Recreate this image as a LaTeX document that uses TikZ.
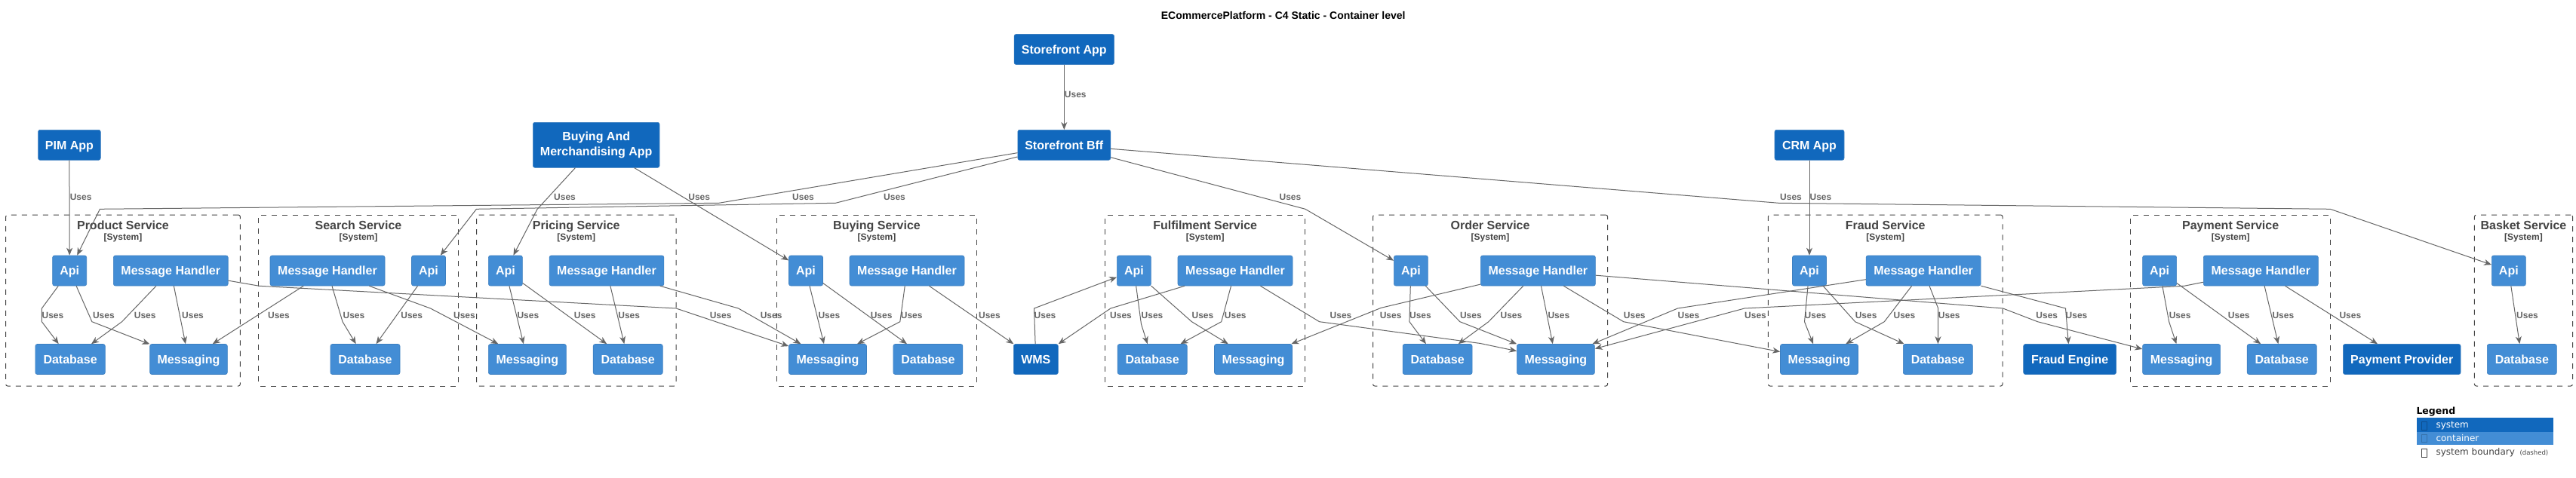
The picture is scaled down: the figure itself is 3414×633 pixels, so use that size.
\documentclass[tikz,border=0pt]{standalone}
\usepackage{fontspec}
\setmainfont{Liberation Sans}
\newfontfamily\legfont{DejaVu Sans}
\usetikzlibrary{arrows.meta}
\definecolor{sysc}{HTML}{1168BD}
\definecolor{contc}{HTML}{438DD5}
\definecolor{bordc}{HTML}{3C7FC0}
\definecolor{relc}{HTML}{666666}
\definecolor{bndc}{HTML}{444444}
\newcommand\ndfont{\fontsize{16}{20}\selectfont\bfseries}
\newcommand\bttlfont{\fontsize{16}{19}\selectfont\bfseries}
\newcommand\bsubfont{\fontsize{12}{14}\selectfont\bfseries}
\newcommand\lbfont{\fontsize{12}{14}\selectfont\bfseries}
\newcommand\ttlfont{\fontsize{14}{17}\selectfont\bfseries}
\tikzset{
  base/.style={rounded corners=2.5pt, line width=0.6pt, draw=bordc, text=white,
    font=\ndfont, inner sep=0pt, minimum height=40pt, align=center},
  one/.style={text height=11.5pt, text depth=0pt},
  sys/.style={base, one, fill=sysc},
  cont/.style={base, one, fill=contc},
  bnd/.style={draw=bndc, dash pattern=on 7pt off 7pt, line width=1pt,
    rounded corners=2.5pt, inner sep=0pt, minimum height=227pt},
  btitle/.style={text=bndc, font=\bttlfont, inner sep=0pt, anchor=base},
  bsub/.style={text=bndc, font=\bsubfont, inner sep=0pt, anchor=base},
  rel/.style={draw=relc, line width=1pt, -{Stealth[length=10pt,width=8pt,inset=3pt]}},
  lbl/.style={text=relc, font=\lbfont, inner sep=0pt, anchor=west},
}
\begin{document}
\begin{tikzpicture}[x=1pt,y=-1pt]
\useasboundingbox (0,0) rectangle (3414,633);
\fill[white] (0,0) rectangle (3414,633);

% title
\node[font=\ttlfont, inner sep=0pt, anchor=base] (title) at (1700.7,25.2) {ECommercePlatform - C4 Static - Container level};

% boundaries
\foreach \n/\cx/\w/\t in {bProd/163/310.7/Product Service, bSearch/475/265.2/Search Service,
  bPric/763.75/264.5/Pricing Service, bBuy/1162/265.2/Buying Service,
  bFul/1597.15/264.9/Fulfilment Service, bOrd/1975.05/311.1/Order Service,
  bFr/2498.65/310.7/Fraud Service, bPay/2956.15/265.1/Payment Service,
  bBas/3344.45/130.1/Basket Service}{
  \node[bnd, minimum width=\w pt] (\n) at (\cx,398.5) {};
  \node[btitle] (\n t) at (\cx,304.3) {\t};
  \node[bsub] (\n s) at (\cx,318.7) {[System]};
}

% top row
\node[sys, minimum width=132.5pt] (sfapp) at (1410.3,65.5) {Storefront App};
\node[sys, minimum width=123pt] (bff) at (1410.3,192.3) {Storefront Bff};
\node[sys, minimum width=82.7pt] (pim) at (91.9,192.3) {PIM App};
\node[base, fill=sysc, minimum width=167.6pt, minimum height=60pt] (bm) at (790.2,192.3) {Buying And\\Merchandising App};
\node[sys, minimum width=92pt] (crm) at (2398,192.3) {CRM App};

% product
\node[cont, minimum width=45pt] (pApi) at (92.2,359) {Api};
\node[cont, minimum width=151.8pt] (pMH) at (226.3,359) {Message Handler};
\node[cont, minimum width=92.4pt] (pDb) at (93.1,476.5) {Database};
\node[cont, minimum width=102.6pt] (pMsg) at (250,476.5) {Messaging};
% search
\node[cont, minimum width=152pt] (sMH) at (434,359) {Message Handler};
\node[cont, minimum width=45pt] (sApi) at (568,359) {Api};
\node[cont, minimum width=92pt] (sDb) at (484,476.5) {Database};
% pricing
\node[cont, minimum width=45pt] (prApi) at (669.9,359) {Api};
\node[cont, minimum width=151.8pt] (prMH) at (804,359) {Message Handler};
\node[cont, minimum width=103pt] (prMsg) at (698.9,476.5) {Messaging};
\node[cont, minimum width=92pt] (prDb) at (832.2,476.5) {Database};
% buying
\node[cont, minimum width=45pt] (bApi) at (1068,359) {Api};
\node[cont, minimum width=152pt] (bMH) at (1202,359) {Message Handler};
\node[cont, minimum width=103pt] (bMsg) at (1097,476.5) {Messaging};
\node[cont, minimum width=92pt] (bDb) at (1229.9,476.5) {Database};
\node[sys, minimum width=59pt] (wms) at (1372.8,476.5) {WMS};
% fulfilment
\node[cont, minimum width=45pt] (fApi) at (1502.9,359) {Api};
\node[cont, minimum width=152pt] (fMH) at (1637,359) {Message Handler};
\node[cont, minimum width=92pt] (fDb) at (1527.2,476.5) {Database};
\node[cont, minimum width=103pt] (fMsg) at (1661,476.5) {Messaging};
% order
\node[cont, minimum width=45pt] (oApi) at (1869.9,359) {Api};
\node[cont, minimum width=152pt] (oMH) at (2038.4,359) {Message Handler};
\node[cont, minimum width=92pt] (oDb) at (1905.1,476.5) {Database};
\node[cont, minimum width=103pt] (oMsg) at (2061.9,476.5) {Messaging};
% fraud
\node[cont, minimum width=45pt] (frApi) at (2398,359) {Api};
\node[cont, minimum width=152pt] (frMH) at (2549.1,359) {Message Handler};
\node[cont, minimum width=103pt] (frMsg) at (2411,476.5) {Messaging};
\node[cont, minimum width=92pt] (frDb) at (2568.3,476.5) {Database};
\node[sys, minimum width=122.8pt] (fe) at (2743.1,476.5) {Fraud Engine};
% payment
\node[cont, minimum width=45pt] (paApi) at (2862.1,359) {Api};
\node[cont, minimum width=152pt] (paMH) at (2996.3,359) {Message Handler};
\node[cont, minimum width=103pt] (paMsg) at (2891.1,476.5) {Messaging};
\node[cont, minimum width=92pt] (paDb) at (3024.2,476.5) {Database};
\node[sys, minimum width=155.7pt] (pp) at (3183.2,476.5) {Payment Provider};
% basket
\node[cont, minimum width=45pt] (baApi) at (3324.8,359) {Api};
\node[cont, minimum width=92pt] (baDb) at (3342.3,476.5) {Database};

% relations: top
\draw[rel] (sfapp) -- (bff);
\draw[rel] (pim) -- (pApi);
\draw[rel] (bff) -- (952.8,269.3) -- (132.4,277.3) -- (pApi);
\draw[rel] (bff) -- (1107.4,269.3) -- (631.4,277.3) -- (sApi);
\draw[rel] (bff) -- (1729.9,277.3) -- (oApi);
\draw[rel] (bff) -- (2357.4,269.3) -- (3088.3,277.3) -- (baApi);
\draw[rel] (bm) -- (712,277.5) -- (prApi);
\draw[rel] (bm) -- (bApi);
\draw[rel] (crm) -- (frApi);
% product
\draw[rel] (pApi) -- (55.4,409) -- (55.4,426.7) -- (pDb);
\draw[rel] (pApi) -- (121.9,426.7) -- (pMsg);
\draw[rel] (pMH) -- (161.6,426.7) -- (pDb);
\draw[rel] (pMH) -- (pMsg);
\draw[rel] (pMH) -- (343.7,379.3) -- (896,409) -- (bMsg);
% search
\draw[rel] (sMH) -- (pMsg);
\draw[rel] (sMH) -- (454,426.7) -- (sDb);
\draw[rel] (sMH) -- (570.5,409) -- (prMsg);
\draw[rel] (sApi) -- (sDb);
% pricing
\draw[rel] (prApi) -- (prMsg);
\draw[rel] (prApi) -- (prDb);
\draw[rel] (prMH) -- (prDb);
\draw[rel] (prMH) -- (978.6,409) -- (bMsg);
% buying
\draw[rel] (bApi) -- (bMsg);
\draw[rel] (bApi) -- (bDb);
\draw[rel] (bMH) -- (1192.8,426.7) -- (bMsg);
\draw[rel] (bMH) -- (wms);
% wms / fulfilment
\draw[rel] (wms) -- (1370.5,409) -- (fApi);
\draw[rel] (fMH) -- (1471.9,409) -- (wms);
\draw[rel] (fApi) -- (1512.5,430) -- (fDb);
\draw[rel] (fApi) -- (1579.4,426.7) -- (fMsg);
\draw[rel] (fMH) -- (1618.7,426.7) -- (fDb);
\draw[rel] (fMH) -- (1748.6,426.7) -- (1962,455.5) -- (oMsg);
% order
\draw[rel] (oMH) -- (1830.4,408.3) -- (fMsg);
\draw[rel] (oApi) -- (1867.9,426.7) -- (oDb);
\draw[rel] (oApi) -- (1934.8,426.7) -- (oMsg);
\draw[rel] (oMH) -- (1972.8,426.7) -- (oDb);
\draw[rel] (oMH) -- (oMsg);
\draw[rel] (oMH) -- (2151.7,426.7) -- (frMsg);
\draw[rel] (oMH) -- (2654.5,409) -- (2700.5,426.7) -- (paMsg);
\draw[rel] (frMH) -- (2223.4,409) -- (oMsg);
\draw[rel] (paMH) -- (2894.7,379.3) -- (2312,409) -- (oMsg);
% fraud
\draw[rel] (frApi) -- (2391.5,426.7) -- (frMsg);
\draw[rel] (frApi) -- (2458.6,426.7) -- (frDb);
\draw[rel] (frMH) -- (2497.3,426.7) -- (frMsg);
\draw[rel] (frMH) -- (2568.7,409) -- (frDb);
\draw[rel] (frMH) -- (2737.5,409) -- (fe);
% payment
\draw[rel] (paApi) -- (2874.6,426.7) -- (paMsg);
\draw[rel] (paApi) -- (paDb);
\draw[rel] (paMH) -- (paDb);
\draw[rel] (paMH) -- (pp);
% basket
\draw[rel] (baApi) -- (baDb);

% labels
\node[lbl] (l0) at (1410.7,125) {Uses};
\foreach \x [count=\i] in {92.6,1050,1171,1695.4,2359,734,912.2,2398.4}
  \node[lbl] (lt\i) at (\x,261.7) {Uses};
\foreach \x [count=\i] in {55.4,122.8,177.7,241,940.6,354.9,454.4,600.9,531.2,685.3,760.7,819.2,
  1007.6,1084.3,1153.6,1193.7,1296.9,1370.5,1471,1512.5,1579.4,1622.7,1762.5,1828.6,1867.9,
  1934.8,1988.4,2051.3,2151.7,2698.2,2223.4,2312,2391.5,2458.6,2509.4,2568.7,2737.5,2874.6,
  2952.7,3011.3,3100.3,3335}
  \node[lbl] (ls\i) at (\x,418.7) {Uses};

% legend
\node[font=\legfont\fontsize{12.5}{15}\selectfont\bfseries, inner sep=0pt, anchor=base west] (legT) at (3202.3,549.3) {Legend};
\node[fill=sysc, inner sep=0pt, minimum width=181.7pt, minimum height=18.3pt, anchor=north west] (legS) at (3202.3,554) {};
\node[fill=contc, inner sep=0pt, minimum width=181.7pt, minimum height=17pt, anchor=north west] (legC) at (3202.3,572.3) {};
\draw[sysc!75!black, line width=0.6pt] (3209.5,559.5) rectangle (3216.5,570);
\draw[contc!80!black, line width=0.6pt] (3209.5,576) rectangle (3216.5,586.5);
\draw[bndc, line width=0.8pt] (3209.5,595) rectangle (3216.5,606);
\node[font=\legfont\fontsize{12}{14}\selectfont, text=white, inner sep=0pt, anchor=base west] (legSt) at (3228.3,567.3) {system};
\node[font=\legfont\fontsize{12}{14}\selectfont, text=white, inner sep=0pt, anchor=base west] (legCt) at (3228.3,585.3) {container};
\node[font=\legfont\fontsize{12}{14}\selectfont, text=bndc, inner sep=0pt, anchor=base west] (legBt) at (3228.3,603.7) {system boundary};
\node[font=\legfont\fontsize{8.5}{10}\selectfont, text=bndc, inner sep=0pt, anchor=base west] (legD) at (3339.3,603.7) {(dashed)};
\end{tikzpicture}
\end{document}
